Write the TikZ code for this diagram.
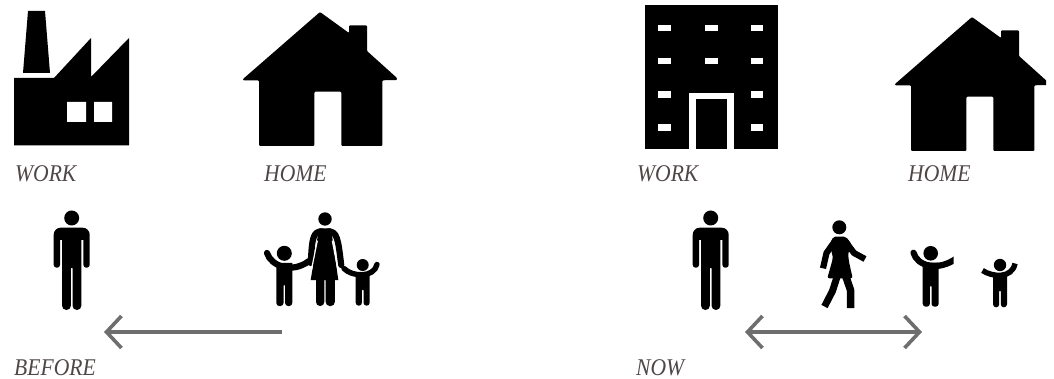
\documentclass[tikz,border=0pt]{standalone}
\usepackage{fontspec}
\setmainfont[FakeStretch=0.9]{Liberation Serif}
\usetikzlibrary{arrows.meta}
\definecolor{labelgray}{HTML}{4F4747}
\definecolor{arrowgray}{HTML}{6E6E6E}
\tikzset{
	tag/.style={anchor=base west, inner sep=0pt, text=labelgray, font=\itshape\fontsize{24}{24}\selectfont},
	limb/.style={draw=black, line width=6.2pt, line cap=round, line join=round},
	gap/.style={draw=white, line width=1.2pt},
	move/.style={draw=arrowgray, line width=3.6pt, >={Straight Barb[length=15pt,width=32pt]}},
	pics/house/.style={code={
		\fill[rounded corners=1pt] (0,0)--(77,-67)--(106,-46)--(106,-53.7)--(124,-53.7)--(124,-28)--(154,-1)--(154,1)--(139.3,1.3)--(139.3,67)
			--(98.3,67)--(98.3,12.7)--(71.3,12.7)--(71.3,67)--(16,67)--(16,1.3)--(0,1.3)--cycle;
	}},
	pics/man/.style={code={
		\fill (0,0) circle (7.5);
		\fill (-18,25) [rounded corners=7pt] -- (-18,9.7) -- (18,9.7) -- (18,25) [rounded corners=2.8pt] -- (18,49.7) -- (11.7,49.7) [sharp corners] -- (11.7,22) -- (9.7,22)
			[rounded corners=4.4pt] -- (9.7,92) -- (0.8,92) [sharp corners] -- (0.8,50) -- (-0.8,50) [rounded corners=4.4pt] -- (-0.8,92) -- (-9.7,92)
			[sharp corners] -- (-9.7,22) -- (-11.7,22) [rounded corners=2.8pt] -- (-11.7,49.7) -- (-18,49.7) -- cycle;
	}},
	% radius, half width, start of the legs, foot
	pics/child/.style n args={4}{code={
		\fill (0,0) circle (#1);
		\fill (-#2,#1+2) -- (#2,#1+2) [rounded corners=3pt] -- (#2,#4) -- (0.8,#4) [sharp corners] -- (0.8,#3) -- (-0.8,#3)
			[rounded corners=3pt] -- (-0.8,#4) -- (-#2,#4) [sharp corners] -- cycle;
	}},
}
\begin{document}
\begin{tikzpicture}[x=1pt, y=-1pt, line join=round]
	\useasboundingbox (0,0) rectangle (1054,379);
	% before
	\fill (14,78)--(54,78)--(91,38)--(91,77)--(129,38)--(129,145.5)--(14,145.5)--cycle;
	\fill (28,11)--(45,11)--(50,73)--(23,73)--cycle;
	\fill[white] (67,102) rectangle (86,122) (94,102) rectangle (112,122);
	\pic at (243,79) {house};
	\node[tag] (work1) at (15,181.5) {WORK};
	\node[tag] (home1) at (264,181.5) {HOME};
	\pic at (71.7,218) {man};
	% family
	\fill (325,219) circle (6.7);
	\fill (319,228.3)--(331,228.3)--(338.3,280)--(334.8,280) [rounded corners=4pt] --(334.8,306)--(325.7,306) [sharp corners] --(325.7,280)--(324.3,280)
		[rounded corners=4pt] --(324.3,306)--(316,306) [sharp corners] --(316,280)--(310.7,280)--cycle;
	\draw[limb] (322,231.4) .. controls (313,231.4) and (312,238) .. (310.8,263);
	\draw[limb] (328,231.4) .. controls (337,231.4) and (338,238) .. (341.2,265);
	\draw[limb] (267,253) .. controls (271,266) and (292,274) .. (309,261);
	\pic at (284.3,253.3) {child={7.5}{8}{32}{52.7}};
	\draw[limb, line width=5.4pt] (344,268.5) .. controls (352,277) and (374,278) .. (377,264.5);
	\pic at (362.7,265) {child={6}{7}{25}{40.7}};
	\draw[gap] (317.3,240.7)--(311.4,270);
	\draw[gap] (332.3,240.7)--(338,270);
	\node[tag] (before) at (14,375) {BEFORE};
	\coordinate (from) at (282,332);
	\coordinate (to) at (104,332);
	\draw[move,->] (from)--(to);
	% now
	\fill (644.5,5) rectangle (778,149);
	\foreach \r in {25,58,91.5,124.5}{
		\fill[white] (658,\r) rectangle (671,\r+6.5);
		\fill[white] (751,\r) rectangle (763,\r+6.5);
	}
	\foreach \r in {25,58}{
		\fill[white] (705,\r) rectangle (718,\r+6.5);
	}
	\fill[white] (689,93) rectangle (733.5,149.5);
	\fill (695.5,99.5) rectangle (727,149.5);
	\begin{scope}
		\clip (880,0) rectangle (1046,160);
		\pic at (895,84) {house};
	\end{scope}
	\node[tag] (work2) at (637,181.5) {WORK};
	\node[tag] (home2) at (908,181.5) {HOME};
	\pic at (710.7,218) {man};
	% walking
	\fill (839.3,227.3) circle (7);
	\fill[rounded corners=2pt] (833,236.7)--(846,236.7)--(852,245)--(848,253)--(849,262)--(852.7,278.3)--(827.3,278.3)--(833,258)--(830,245)--cycle;
	\draw[limb, line cap=butt] (835,241)--(826.5,253)--(823,268.3);
	\draw[limb, line cap=butt] (845,241)--(854,253)--(865,259);
	\draw[limb, line width=7pt, line cap=butt] (837,277)--(832.5,291)--(824.5,306.5);
	\draw[limb, line width=7.5pt, line cap=butt] (846,277)--(850.5,290)--(850.5,308);
	\begin{scope}
		\clip (900,230) rectangle (953.5,320);
		\draw[limb] (913.5,252.7) .. controls (917,266) and (938,272) .. (957,258);
		\pic at (930.7,253.3) {child={7.3}{8}{33}{53.4}};
	\end{scope}
	\draw[limb, line width=5.4pt, line cap=butt] (982.5,270.5) .. controls (992,277) and (1012,279) .. (1015,263.5);
	\pic at (1000,265) {child={6.2}{7}{26}{42.3}};
	\node[tag] (now) at (636,375) {NOW};
	\coordinate (left) at (745,332);
	\coordinate (right) at (922,332);
	\draw[move,<->] (left)--(right);
\end{tikzpicture}
\end{document}
